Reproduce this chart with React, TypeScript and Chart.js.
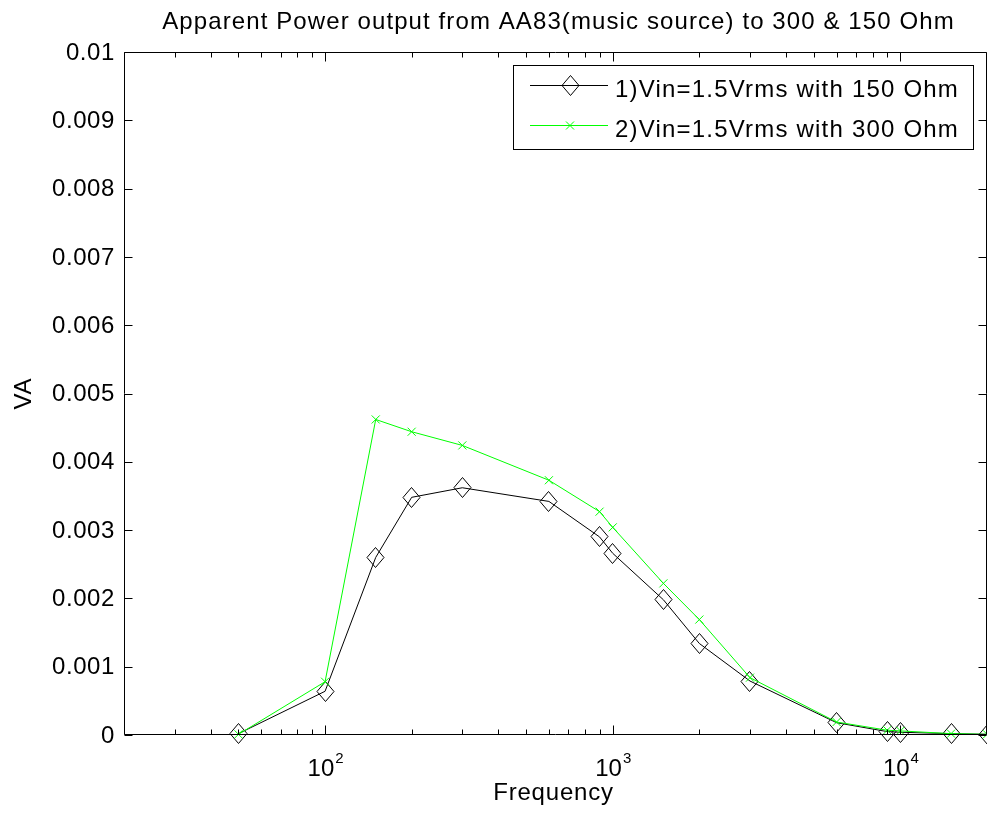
import React, { useEffect, useRef } from "react";
import { Chart, registerables } from "chart.js";

Chart.register(...registerables);

const titleText = "Apparent Power output from AA83(music source) to 300 & 150 Ohm";
const xTitle = "Frequency";
const yTitle = "VA";

const freqs = [50, 100, 150, 200, 300, 600, 900, 1000, 1500, 2000, 3000, 6000, 9000, 10000, 15000, 20000];
const va150 = [0.00002, 0.00064, 0.0026, 0.00348, 0.00362, 0.00342, 0.0029, 0.00266, 0.00198, 0.00134, 0.00079, 0.00018, 0.00005, 0.00004, 0.00002, 0.00001];
const va300 = [0.00001, 0.00078, 0.00462, 0.00444, 0.00424, 0.00373, 0.00327, 0.00304, 0.00222, 0.00169, 0.00084, 0.00019, 0.00007, 0.00006, 0.00002, 0.00001];

const label150 = "1)Vin=1.5Vrms with 150 Ohm";
const label300 = "2)Vin=1.5Vrms with 300 Ohm";

const yTicks = [0, 0.001, 0.002, 0.003, 0.004, 0.005, 0.006, 0.007, 0.008, 0.009, 0.01];
const xMajorExps = [2, 3, 4];
const xMin = 20;
const xMax = 20000;

const FONT = '"Liberation Sans", Arial, Helvetica, sans-serif';

function makeDiamond(): HTMLCanvasElement {
  const c = document.createElement("canvas");
  c.width = 19;
  c.height = 21;
  const g = c.getContext("2d")!;
  g.strokeStyle = "#000";
  g.lineWidth = 1;
  g.beginPath();
  g.moveTo(9.5, 0.5);
  g.lineTo(18, 10.5);
  g.lineTo(9.5, 20.5);
  g.lineTo(1, 10.5);
  g.closePath();
  g.stroke();
  return c;
}

function setSpacing(ctx: any, v: string) {
  try {
    ctx.letterSpacing = v;
  } catch (e) {
    /* ignore */
  }
}

const axesPlugin = {
  id: "matlabAxes",
  beforeDatasetsDraw(chart: any) {
    chart.ctx.imageSmoothingEnabled = false;
  },
  afterDraw(chart: any) {
    const ctx = chart.ctx as CanvasRenderingContext2D;
    const area = chart.chartArea;
    const xs = chart.scales.x;
    const ys = chart.scales.y;
    const L = Math.round(area.left) + 0.5;
    const R = Math.round(area.right) - 0.5;
    const T = Math.round(area.top) + 0.5;
    const B = Math.round(area.bottom) - 0.5;
    ctx.save();
    ctx.imageSmoothingEnabled = false;
    ctx.strokeStyle = "#000";
    ctx.lineWidth = 1;
    ctx.beginPath();
    ctx.rect(L, T, R - L, B - T);
    ctx.stroke();

    // y ticks
    ctx.beginPath();
    yTicks.forEach((v) => {
      const y = Math.round(ys.getPixelForValue(v)) + 0.5;
      ctx.moveTo(L, y);
      ctx.lineTo(L + 8, y);
      ctx.moveTo(R, y);
      ctx.lineTo(R - 8, y);
    });
    // x ticks
    for (let e = 1; e <= 4; e++) {
      for (let m = 1; m <= 9; m++) {
        const f = m * Math.pow(10, e);
        if (f < xMin || f > xMax) continue;
        const x = Math.round(xs.getPixelForValue(f)) + 0.5;
        const len = m === 1 ? 9 : 5;
        ctx.moveTo(x, B);
        ctx.lineTo(x, B - len);
        ctx.moveTo(x, T);
        ctx.lineTo(x, T + len);
      }
    }
    ctx.stroke();

    // y labels
    ctx.fillStyle = "#000";
    ctx.font = `24px ${FONT}`;
    setSpacing(ctx, "0.6px");
    ctx.textAlign = "right";
    ctx.textBaseline = "middle";
    yTicks.forEach((v) => {
      const y = ys.getPixelForValue(v);
      const s = Number(v.toFixed(3)).toString();
      ctx.fillText(s, area.left - 9, y + 1);
    });

    // x labels 10^n
    setSpacing(ctx, "0px");
    ctx.textBaseline = "alphabetic";
    ctx.textAlign = "left";
    xMajorExps.forEach((e) => {
      const x = xs.getPixelForValue(Math.pow(10, e));
      ctx.font = `24px ${FONT}`;
      const w1 = ctx.measureText("10").width;
      ctx.font = `15px ${FONT}`;
      const w2 = ctx.measureText(String(e)).width;
      const start = x - (w1 + w2) / 2;
      ctx.font = `24px ${FONT}`;
      ctx.fillText("10", start, 776);
      ctx.font = `15px ${FONT}`;
      ctx.fillText(String(e), start + w1 + 1, 763);
    });

    // axis titles
    ctx.font = `24px ${FONT}`;
    ctx.textAlign = "center";
    const cx = (area.left + area.right) / 2;
    setSpacing(ctx, "0.8px");
    ctx.fillText(xTitle, cx - 2, 800);
    setSpacing(ctx, "1.1px");
    ctx.fillText(titleText, cx + 3, 29);

    ctx.save();
    setSpacing(ctx, "0.8px");
    ctx.translate(31, (area.top + area.bottom) / 2);
    ctx.rotate(-Math.PI / 2);
    ctx.textAlign = "center";
    ctx.fillText(yTitle, 0, 0);
    ctx.restore();

    // legend
    const lx = 513.5, ly = 65.5, lw = 460, lh = 84;
    ctx.fillStyle = "#fff";
    ctx.fillRect(lx, ly, lw, lh);
    ctx.strokeStyle = "#000";
    ctx.strokeRect(lx, ly, lw, lh);

    const ds = chart.data.datasets;
    const rows = [
      { y: 85.5, base: 97, d: ds[0] },
      { y: 125.5, base: 137, d: ds[1] },
    ];
    rows.forEach((r, i) => {
      ctx.strokeStyle = r.d.borderColor;
      ctx.lineWidth = 1;
      ctx.beginPath();
      ctx.moveTo(530, r.y);
      ctx.lineTo(608, r.y);
      ctx.stroke();
      if (i === 0) {
        const img = r.d.pointStyle as HTMLCanvasElement;
        ctx.drawImage(img, Math.round(570 - img.width / 2), Math.round(r.y - img.height / 2));
      } else {
        ctx.beginPath();
        ctx.moveTo(566, r.y - 4);
        ctx.lineTo(574, r.y + 4);
        ctx.moveTo(574, r.y - 4);
        ctx.lineTo(566, r.y + 4);
        ctx.stroke();
      }
      ctx.fillStyle = "#000";
      ctx.font = `24px ${FONT}`;
      setSpacing(ctx, "1.2px");
      ctx.textAlign = "left";
      ctx.fillText(r.d.label, 615, r.base);
    });
    setSpacing(ctx, "0px");
    ctx.restore();
  },
};

export default function App() {
  const ref = useRef<HTMLCanvasElement | null>(null);
  useEffect(() => {
    if (!ref.current) return;
    const diamond = makeDiamond();
    const chart = new Chart(ref.current, {
      type: "line",
      data: {
        datasets: [
          {
            label: label150,
            data: freqs.map((f, i) => ({ x: f, y: va150[i] })),
            borderColor: "#000000",
            backgroundColor: "transparent",
            borderWidth: 1,
            pointStyle: diamond as any,
            pointRadius: 9,
            pointBorderColor: "#000000",
            pointBackgroundColor: "transparent",
            tension: 0,
            clip: false as any,
            order: 1,
          },
          {
            label: label300,
            data: freqs.map((f, i) => ({ x: f, y: va300[i] })),
            borderColor: "#00ff00",
            backgroundColor: "transparent",
            borderWidth: 1,
            pointStyle: "crossRot",
            pointRadius: 5.7,
            pointBorderWidth: 1,
            pointBorderColor: "#00ff00",
            pointBackgroundColor: "transparent",
            tension: 0,
            clip: false as any,
            order: 0,
          },
        ],
      },
      options: {
        animation: false,
        responsive: false,
        maintainAspectRatio: false,
        events: [],
        layout: { autoPadding: false, padding: { left: 124, right: 0, top: 52, bottom: 84 } },
        plugins: {
          legend: { display: false },
          title: { display: false },
          tooltip: { enabled: false },
        },
        scales: {
          x: { type: "logarithmic", min: xMin, max: xMax, display: false },
          y: { type: "linear", min: 0, max: 0.01, display: false },
        },
      },
      plugins: [axesPlugin],
    });
    return () => chart.destroy();
  }, []);
  return (
    <div style={{ position: "absolute", left: 0, top: 0, width: 987, height: 819, background: "#fff" }}>
      <canvas ref={ref} width={987} height={819} style={{ display: "block", width: 987, height: 819 }} />
    </div>
  );
}
